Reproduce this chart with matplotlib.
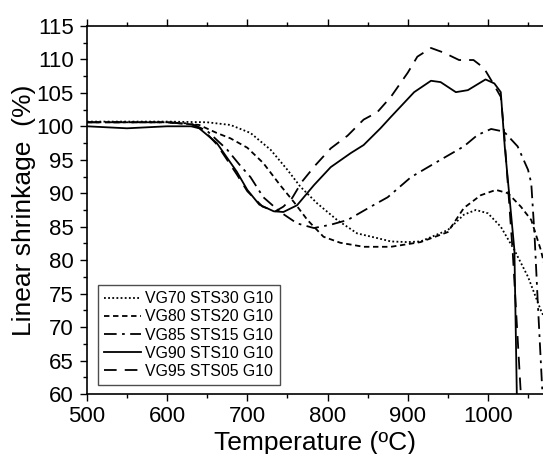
import matplotlib
matplotlib.use("Agg")
import matplotlib.pyplot as plt
from matplotlib.ticker import MultipleLocator

plt.rcParams['font.family'] = ['Liberation Sans', 'DejaVu Sans']

# VG70 STS30 G10 (dotted)
t70 = [500, 600, 650, 679, 704, 729, 750, 766, 787, 812, 837, 862, 879, 900,
       916, 950, 970, 985, 1000, 1016, 1033, 1050, 1066, 1070]
v70 = [100.7, 100.7, 100.6, 100.2, 99.0, 96.5, 93.5, 91.0, 88.5, 86.0, 84.0,
       83.3, 82.8, 82.7, 82.8, 84.5, 86.8, 87.5, 87.0, 85.0, 81.5, 77.5, 72.5, 71.5]

# VG80 STS20 G10 (short dash)
t80 = [500, 600, 640, 662, 679, 700, 720, 741, 758, 775, 795, 816, 845, 879,
       916, 950, 970, 991, 1010, 1025, 1041, 1054, 1066, 1070]
v80 = [100.6, 100.6, 100.2, 99.0, 98.2, 96.8, 94.5, 91.2, 88.7, 86.0, 83.5,
       82.6, 82.0, 82.0, 82.7, 84.2, 87.8, 89.7, 90.5, 90.0, 88.0, 86.0, 81.5, 79.5]

# VG85 STS15 G10 (dash-dot)
t85 = [500, 600, 630, 650, 675, 690, 704, 720, 741, 762, 783, 804, 825, 854,
       875, 904, 941, 970, 987, 1004, 1020, 1037, 1050, 1054, 1058, 1062, 1068]
v85 = [100.6, 100.6, 100.4, 99.3, 96.5, 94.3, 92.4, 89.4, 87.2, 85.5, 84.8,
       85.3, 86.0, 88.0, 89.4, 92.4, 95.0, 97.0, 98.7, 99.6, 99.2, 97.0, 93.5,
       91.5, 84.0, 74.0, 60.0]

# VG90 STS10 G10 (solid)
t90 = [500, 550, 600, 630, 640, 662, 687, 700, 715, 733, 745, 762, 783, 804,
       829, 845, 866, 879, 908, 929, 941, 960, 975, 997, 1008, 1016, 1021, 1026,
       1033, 1036]
v90 = [100.0, 99.7, 100.0, 100.0, 99.7, 97.5, 93.2, 90.5, 88.3, 87.3, 87.2,
       88.2, 91.2, 93.9, 96.0, 97.2, 99.7, 101.4, 105.1, 106.8, 106.6, 105.1,
       105.4, 107.0, 106.4, 105.1, 96.9, 90.5, 81.5, 60.0]

# VG95 STS05 G10 (long dash)
t95 = [500, 600, 630, 645, 662, 687, 700, 719, 735, 745, 756, 768, 785, 804,
       825, 845, 862, 879, 900, 912, 929, 945, 964, 982, 995, 1006, 1016, 1020,
       1031, 1041]
v95 = [100.6, 100.6, 100.3, 99.5, 97.3, 92.8, 90.3, 88.0, 87.3, 88.0, 89.3,
       91.7, 94.2, 96.7, 98.6, 101.0, 102.1, 104.4, 108.0, 110.4, 111.7, 111.0,
       109.9, 109.9, 108.7, 106.5, 104.4, 99.4, 81.0, 60.0]

fig = plt.figure(figsize=(5.43, 4.54), dpi=100)
ax = fig.add_axes([0.160, 0.132, 0.842, 0.811])

lw = 1.3
ax.plot(t70, v70, color='black', lw=lw, linestyle=(0, (1, 1.3)), label='VG70 STS30 G10')
ax.plot(t80, v80, color='black', lw=lw, linestyle=(0, (3, 2)), label='VG80 STS20 G10')
ax.plot(t85, v85, color='black', lw=lw, linestyle=(0, (7, 3, 1.5, 3)), label='VG85 STS15 G10')
ax.plot(t90, v90, color='black', lw=lw, linestyle='-', label='VG90 STS10 G10')
ax.plot(t95, v95, color='black', lw=lw, linestyle=(0, (7, 4.5)), label='VG95 STS05 G10')

ax.set_xlim(500, 1070)
ax.set_ylim(60, 115)
ax.xaxis.set_major_locator(MultipleLocator(100))
ax.xaxis.set_minor_locator(MultipleLocator(50))
ax.yaxis.set_major_locator(MultipleLocator(5))
ax.yaxis.set_minor_locator(MultipleLocator(2.5))
ax.tick_params(which='both', direction='out', top=True, labelsize=16, width=1)
ax.tick_params(which='major', length=5)
ax.tick_params(which='minor', length=3)
ax.tick_params(axis='y', pad=4.5)
ax.tick_params(axis='x', pad=3.5)
ax.spines['right'].set_visible(False)
for s in ['left', 'bottom', 'top']:
    ax.spines[s].set_linewidth(1.2)

ax.set_xlabel('Temperature (ºC)', fontsize=19, labelpad=3)
ax.set_ylabel('Linear shrinkage  (%)', fontsize=19, labelpad=0)

leg = ax.legend(loc='lower left', bbox_to_anchor=(0.024, 0.024), borderaxespad=0,
                fontsize=11.4, frameon=True, fancybox=False, framealpha=1,
                edgecolor='0.3', handlelength=2.3, handletextpad=0.3,
                labelspacing=0.2, borderpad=0.4)
leg.get_frame().set_linewidth(1.0)

fig.savefig('out.png', dpi=100)
